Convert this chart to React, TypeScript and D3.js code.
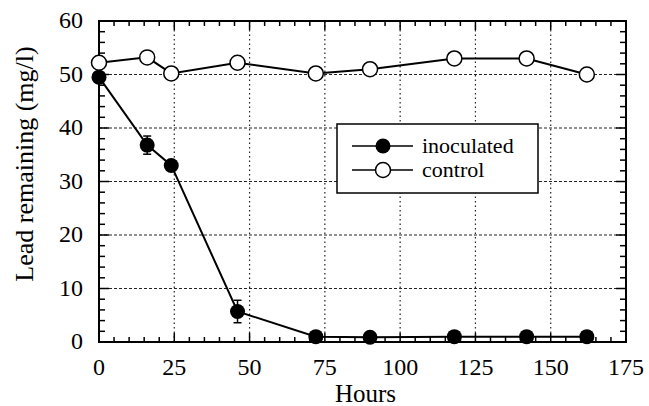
import * as d3 from 'd3';

const hours = [0, 16, 24, 46, 72, 90, 118, 142, 162];
const inoculated = [49.5, 36.8, 33, 5.7, 1, 0.9, 1, 1, 1];
const inoculatedErr = [0.8, 1.7, 0.8, 2.1, 0.3, 0.3, 0.3, 0.3, 0.3];
const control = [52.2, 53.2, 50.2, 52.2, 50.2, 51, 53, 53, 50];
const xTicks = [0, 25, 50, 75, 100, 125, 150, 175];
const yTicks = [0, 10, 20, 30, 40, 50, 60];

const W = 649;
const H = 406;
const margin = { left: 99, right: 23, top: 21, bottom: 64 };
const font = 'Liberation Serif, Tinos, DejaVu Serif, Noto Serif, serif';

export default function App() {
  const x = d3.scaleLinear().domain([0, 175]).range([margin.left, W - margin.right]);
  const y = d3.scaleLinear().domain([0, 60]).range([H - margin.bottom, margin.top]);
  const [x0, x1] = x.range();
  const [y0, y1] = y.range();

  const line = d3
    .line<number>()
    .x((_, i) => x(hours[i]))
    .y((d) => y(d));

  const minorX = d3.range(0, 176, 5).filter((v) => v % 25 !== 0);
  const minorY = d3.range(0, 61, 2).filter((v) => v % 10 !== 0);

  // legend
  const lx = 337;
  const ly = 124;

  return (
    <svg width={W} height={H} style={{ position: 'absolute', left: 0, top: 0, background: '#fff', fontFamily: font }}>
      {/* grid */}
      {xTicks.slice(1, -1).map((t) => (
        <line key={'gx' + t} x1={x(t)} x2={x(t)} y1={y0} y2={y1} stroke="#222" strokeWidth={1.2} strokeDasharray="1.5,3" />
      ))}
      {yTicks.slice(1, -1).map((t) => (
        <line key={'gy' + t} x1={x0} x2={x1} y1={y(t)} y2={y(t)} stroke="#222" strokeWidth={1.2} strokeDasharray="3,2" />
      ))}

      {/* minor ticks */}
      {minorX.map((t) => (
        <g key={'mx' + t} stroke="#000" strokeWidth={1.5}>
          <line x1={x(t)} x2={x(t)} y1={y0} y2={y0 - 5} />
          <line x1={x(t)} x2={x(t)} y1={y1} y2={y1 + 5} />
        </g>
      ))}
      {minorY.map((t) => (
        <g key={'my' + t} stroke="#000" strokeWidth={1.5}>
          <line x1={x0} x2={x0 + 6} y1={y(t)} y2={y(t)} />
          <line x1={x1} x2={x1 - 6} y1={y(t)} y2={y(t)} />
        </g>
      ))}
      {xTicks.map((t) => (
        <g key={'Mx' + t} stroke="#000" strokeWidth={1.5}>
          <line x1={x(t)} x2={x(t)} y1={y0} y2={y0 - 9} />
          <line x1={x(t)} x2={x(t)} y1={y1} y2={y1 + 9} />
        </g>
      ))}
      {yTicks.map((t) => (
        <g key={'My' + t} stroke="#000" strokeWidth={1.5}>
          <line x1={x0} x2={x0 + 10} y1={y(t)} y2={y(t)} />
          <line x1={x1} x2={x1 - 10} y1={y(t)} y2={y(t)} />
        </g>
      ))}

      <rect x={x0} y={y1} width={x1 - x0} height={y0 - y1} fill="none" stroke="#000" strokeWidth={2} />

      {/* tick labels */}
      {xTicks.map((t) => (
        <text key={'lx' + t} x={x(t)} y={y0 + 33} textAnchor="middle" fontSize={24} fill="#000">
          {t}
        </text>
      ))}
      {yTicks.map((t) => (
        <text key={'ly' + t} x={x0 - 16} y={y(t) + 7} textAnchor="end" fontSize={24} fill="#000">
          {t}
        </text>
      ))}
      <text x={(x0 + x1) / 2 + 3} y={H - 4} textAnchor="middle" fontSize={25} fill="#000">
        Hours
      </text>
      <text
        transform={`translate(33, 164) rotate(-90)`}
        textAnchor="middle"
        fontSize={26}
        fill="#000"
      >
        Lead remaining (mg/l)
      </text>

      {/* control */}
      <path d={line(control) || ''} fill="none" stroke="#000" strokeWidth={2} />
      {/* inoculated */}
      <path d={line(inoculated) || ''} fill="none" stroke="#000" strokeWidth={2} />
      {inoculated.map((v, i) => (
        <g key={'e' + i} stroke="#000" strokeWidth={1.5}>
          <line x1={x(hours[i])} x2={x(hours[i])} y1={y(v - inoculatedErr[i])} y2={y(v + inoculatedErr[i])} />
          <line x1={x(hours[i]) - 4} x2={x(hours[i]) + 4} y1={y(v - inoculatedErr[i])} y2={y(v - inoculatedErr[i])} />
          <line x1={x(hours[i]) - 4} x2={x(hours[i]) + 4} y1={y(v + inoculatedErr[i])} y2={y(v + inoculatedErr[i])} />
        </g>
      ))}
      {control.map((v, i) => (
        <circle key={'c' + i} cx={x(hours[i])} cy={y(v)} r={7.5} fill="#fff" stroke="#000" strokeWidth={1.5} />
      ))}
      {inoculated.map((v, i) => (
        <circle key={'i' + i} cx={x(hours[i])} cy={y(v)} r={7.5} fill="#000" />
      ))}

      {/* legend */}
      <rect x={lx} y={ly} width={201} height={69} fill="#fff" stroke="#000" strokeWidth={1.5} />
      <line x1={lx + 15} x2={lx + 76} y1={ly + 22} y2={ly + 22} stroke="#000" strokeWidth={1.5} />
      <circle cx={lx + 46} cy={ly + 22} r={7.5} fill="#000" />
      <line x1={lx + 15} x2={lx + 76} y1={ly + 46} y2={ly + 46} stroke="#000" strokeWidth={1.5} />
      <circle cx={lx + 46} cy={ly + 46} r={7.5} fill="#fff" stroke="#000" strokeWidth={1.5} />
      <text x={lx + 85} y={ly + 29} fontSize={22} fill="#000">
        inoculated
      </text>
      <text x={lx + 85} y={ly + 53} fontSize={22} fill="#000">
        control
      </text>
    </svg>
  );
}
